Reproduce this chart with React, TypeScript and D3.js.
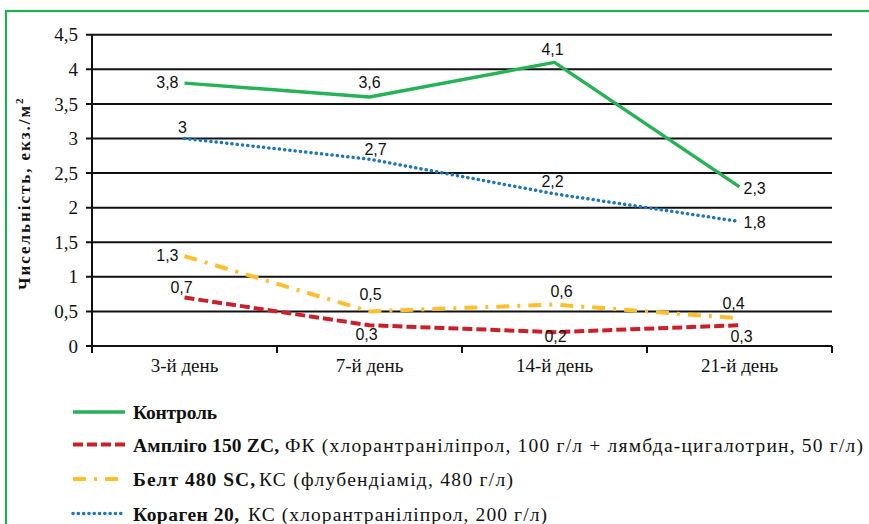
import React from "react";
import * as d3 from "d3";

const categories = ["3-й день", "7-й день", "14-й день", "21-й день"];
const yTicks = [0, 0.5, 1, 1.5, 2, 2.5, 3, 3.5, 4, 4.5];
const kontrol = [3.8, 3.6, 4.1, 2.3];
const ampligo = [0.7, 0.3, 0.2, 0.3];
const belt = [1.3, 0.5, 0.6, 0.4];
const koragen = [3.0, 2.7, 2.2, 1.8];
const legendBold = ["Контроль", "Ампліго 150 ZC,", "Белт 480 SC,", "Кораген 20,"];
const legendNormal = [
  "",
  "ФК (хлорантраніліпрол, 100 г/л + лямбда-цигалотрин, 50 г/л)",
  "КС (флубендіамід, 480 г/л)",
  "КС (хлорантраніліпрол, 200 г/л)",
];

type Pl = [string, number, number];
const seriesDefs = [
  {
    values: kontrol, color: "#27b258", width: 3.5, dash: "", cap: "butt",
    place: [["end", -6, 5], ["middle", 0, -9], ["middle", -2, -7], ["start", 4, 7]] as Pl[],
  },
  {
    values: ampligo, color: "#c9202b", width: 4, dash: "10,4", cap: "butt",
    place: [["middle", -3, -5], ["middle", -3, 15], ["middle", 1, 10], ["middle", 2, 17]] as Pl[],
  },
  {
    values: belt, color: "#fdbf2d", width: 4, dash: "13,8,3,8", cap: "butt",
    place: [["end", -6, 5], ["middle", 1, -11], ["middle", 7, -7], ["middle", -6, -9]] as Pl[],
  },
  {
    values: koragen, color: "#1c75bf", width: 3.5, dash: "0.1,5.2", cap: "round",
    place: [["middle", -2, -5], ["middle", 6, -4], ["middle", -2, -7], ["start", 4, 7]] as Pl[],
  },
];

// legend layout (pixel geometry, not data)
const legendY = [412, 444.5, 479, 513.5];
const boldWidth = [84, 146, 122, 106];
const normalX = [0, 285, 259, 248];
const normalWidth = [0, 578, 254, 299];

const W = 869;
const H = 524;
const left = 92;
const right = 832;
const top = 34.7;
const bottom = 346;

export default function App() {
  const x = d3.scaleBand<string>().domain(categories).range([left, right]).padding(0);
  const y = d3.scaleLinear().domain([0, 4.5]).range([bottom, top]);
  const cx = (c: string) => (x(c) as number) + x.bandwidth() / 2;
  const line = d3
    .line<number>()
    .x((_, i) => cx(categories[i]))
    .y((d) => y(d));
  const fmt = (v: number) => String(v).replace(".", ",");
  const boundaries = categories.map((c) => x(c) as number).concat([right]);
  const serif = "'Liberation Serif', 'Times New Roman', serif";

  return (
    <svg
      width={W}
      height={H}
      style={{ position: "absolute", left: 0, top: 0, background: "#fff" }}
    >
      <rect x={6} y={11} width={W + 20} height={H + 20} fill="#fff" stroke="#1fae52" strokeWidth={2.2} />
      {yTicks.map((t) => (
        <g key={t}>
          <line x1={left - 6} x2={right} y1={y(t)} y2={y(t)} stroke="#111" strokeWidth={2} />
          <text
            x={78}
            y={y(t)}
            dy="0.35em"
            textAnchor="end"
            fontFamily={serif}
            fontSize={19}
            fill="#111"
          >
            {fmt(t)}
          </text>
        </g>
      ))}
      <line x1={left} x2={left} y1={top} y2={bottom + 6} stroke="#111" strokeWidth={2} />
      {boundaries.map((b, i) => (
        <line key={i} x1={b} x2={b} y1={bottom} y2={bottom + 7} stroke="#111" strokeWidth={2} />
      ))}
      {categories.map((c) => (
        <text
          key={c}
          x={cx(c)}
          y={372}
          textAnchor="middle"
          fontFamily={serif}
          fontSize={19}
          fill="#111"
        >
          {c}
        </text>
      ))}
      <text
        transform={`translate(30,${290}) rotate(-90)`}
        textAnchor="start"
        fontFamily={serif}
        fontWeight="bold"
        fontSize={17}
        fill="#111"
      >
        <tspan textLength={184} lengthAdjust="spacing">Чисельність, екз./м</tspan>
        <tspan dy={-7} fontSize={11}>2</tspan>
      </text>
      {seriesDefs.map((s, si) => (
        <path
          key={si}
          d={line(s.values) as string}
          fill="none"
          stroke={s.color}
          strokeWidth={s.width}
          strokeDasharray={s.dash || undefined}
          strokeLinecap={s.cap as any}
          strokeLinejoin="round"
        />
      ))}
      {seriesDefs.map((s, si) =>
        s.values.map((v, i) => {
          const [anchor, dx, dy] = s.place[i];
          return (
            <text
              key={`${si}-${i}`}
              x={cx(categories[i]) + dx}
              y={y(v) + dy}
              textAnchor={anchor}
              fontFamily="'Liberation Sans', sans-serif"
              fontSize={16}
              fill="#111"
            >
              {fmt(v)}
            </text>
          );
        })
      )}
      {seriesDefs.map((s, si) => {
        const ly = legendY[si];
        return (
          <g key={`lg${si}`}>
            <line
              x1={73}
              x2={125}
              y1={ly}
              y2={ly}
              stroke={s.color}
              strokeWidth={s.width}
              strokeDasharray={s.dash || undefined}
              strokeLinecap={s.cap as any}
            />
            <text
              x={133}
              y={ly + 7}
              fontFamily={serif}
              fontWeight="bold"
              fontSize={19.5}
              fill="#111"
              textLength={boldWidth[si]}
              lengthAdjust="spacing"
            >
              {legendBold[si]}
            </text>
            {legendNormal[si] && (
              <text
                x={normalX[si]}
                y={ly + 7}
                fontFamily={serif}
                fontSize={19.5}
                fill="#111"
                textLength={normalWidth[si]}
                lengthAdjust="spacing"
              >
                {legendNormal[si]}
              </text>
            )}
          </g>
        );
      })}
    </svg>
  );
}
